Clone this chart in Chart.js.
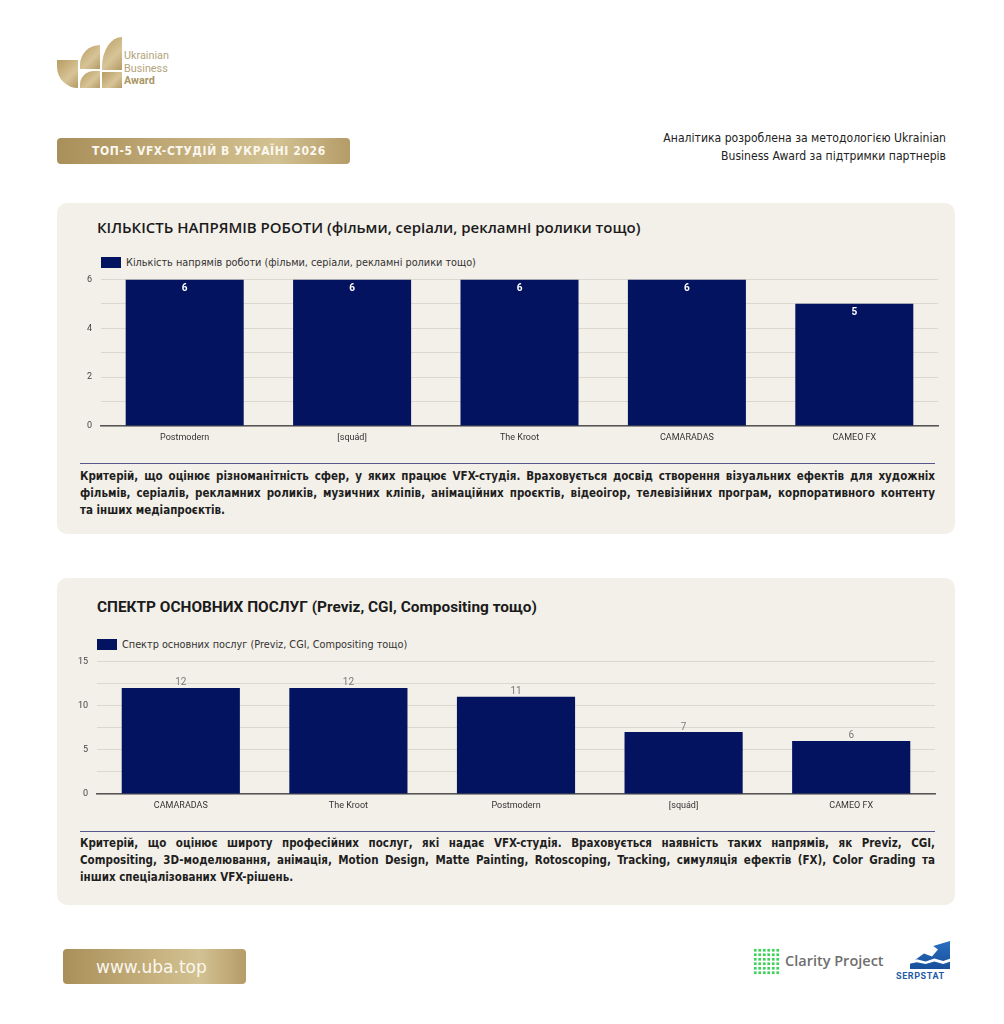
<!DOCTYPE html>
<html lang="uk">
<head>
<meta charset="utf-8">
<title>ТОП-5 VFX-студій в Україні 2026</title>
<script src="https://cdn.jsdelivr.net/npm/chart.js@4.4.1/dist/chart.umd.min.js"></script>
<style>
  html, body { margin: 0; padding: 0; background: #ffffff; }
  #page { position: relative; width: 1004px; height: 1024px; overflow: hidden; font-family: Roboto, sans-serif; }
  .abs { position: absolute; }
  .gold { background: linear-gradient(90deg, #a98f5a 0%, #c9b583 55%, #d2c192 75%, #b59c68 100%); }
  .badge { border-radius: 4px; color: #fbf7ee; font-family: "DejaVu Sans Condensed", sans-serif; font-weight: bold; }
  .card { left: 57px; width: 898px; background: #f3f0e9; border-radius: 10px; }
  .ctitle { color: #1b1b1b; font-size: 15px; line-height: 20px; white-space: nowrap; }
  .legend { font-family: "DejaVu Sans Condensed", sans-serif; font-size: 10.8px; color: #333; line-height: 12px; white-space: nowrap; }
  .legend span.box { display: inline-block; width: 20px; height: 11px; background: #03135f; vertical-align: -2px; margin-right: 5px; }
  .sep { left: 80px; width: 855px; height: 0; border-top: 1.5px solid #55558a; }
  .desc { left: 80px; width: 855px; font-family: "DejaVu Sans Condensed", sans-serif; font-weight: bold; font-size: 11.5px; color: #1e1e1e; line-height: 17px; }
  .desc div { white-space: nowrap; text-align: justify; text-align-last: justify; }
  .desc div.last { text-align-last: left; }
  .logo-part { position: absolute; background: linear-gradient(135deg, #b89c62, #d7c497 60%, #b49a66); }
</style>
</head>
<body>
<div id="page">
  <!-- логотип -->
  <div class="logo-part" style="left:57px;top:60px;width:21px;height:28px;border-bottom-left-radius:21px;"></div>
  <div class="logo-part" style="left:80px;top:45px;width:20px;height:24px;border-top-left-radius:20px;"></div>
  <div class="logo-part" style="left:80px;top:71px;width:20px;height:17px;border-top-left-radius:14px;"></div>
  <div class="logo-part" style="left:102px;top:37px;width:20px;height:33px;border-top-left-radius:20px 30px;"></div>
  <div class="logo-part" style="left:102px;top:72px;width:20px;height:16px;"></div>
  <div class="abs" style="left:124px;top:50px;font-family:Roboto,sans-serif;font-size:10.8px;line-height:12.5px;color:#b3a47c;">
    Ukrainian<br>Business<br><b style="color:#a99664;">Award</b>
  </div>

  <div class="abs badge gold" style="left:57px;top:138px;width:293px;height:26px;line-height:27px;font-size:12px;letter-spacing:0.6px;text-indent:35px;">ТОП-5 VFX-СТУДІЙ В УКРАЇНІ 2026</div>

  <div class="abs" style="right:58px;top:129px;text-align:right;font-family:'DejaVu Sans Condensed',sans-serif;font-size:12.1px;line-height:18px;color:#222;">
    Аналітика розроблена за методологією Ukrainian<br>Business Award за підтримки партнерів
  </div>

  <!-- картка 1 -->
  <div class="abs card" style="top:203px;height:331px;"></div>
  <div class="abs ctitle" style="left:97px;top:217px;font-family:'Open Sans',sans-serif;font-weight:600;font-size:15px;">КІЛЬКІСТЬ НАПРЯМІВ РОБОТИ (фільми, серіали, рекламні ролики тощо)</div>
  <div class="abs legend" id="legend1" style="left:101px;top:257px;"></div>
  <div class="abs" style="left:70px;top:265px;width:875px;height:181px;"><canvas id="chart1"></canvas></div>
  <div class="abs sep" style="top:463px;"></div>
  <div class="abs desc" style="top:468px;">
    <div>Критерій, що оцінює різноманітність сфер, у яких працює VFX-студія. Враховується досвід створення візуальних ефектів для художніх</div>
    <div>фільмів, серіалів, рекламних роликів, музичних кліпів, анімаційних проєктів, відеоігор, телевізійних програм, корпоративного контенту</div>
    <div class="last">та інших медіапроєктів.</div>
  </div>

  <!-- картка 2 -->
  <div class="abs card" style="top:578px;height:327px;"></div>
  <div class="abs ctitle" style="left:97px;top:597px;font-family:Roboto,sans-serif;font-weight:bold;font-size:15.4px;">СПЕКТР ОСНОВНИХ ПОСЛУГ (Previz, CGI, Compositing тощо)</div>
  <div class="abs legend" id="legend2" style="left:97px;top:639px;"></div>
  <div class="abs" style="left:66px;top:647px;width:879px;height:167px;"><canvas id="chart2"></canvas></div>
  <div class="abs sep" style="top:831px;"></div>
  <div class="abs desc" style="top:835px;">
    <div>Критерій, що оцінює широту професійних послуг, які надає VFX-студія. Враховується наявність таких напрямів, як Previz, CGI,</div>
    <div>Compositing, 3D-моделювання, анімація, Motion Design, Matte Painting, Rotoscoping, Tracking, симуляція ефектів (FX), Color Grading та</div>
    <div class="last">інших спеціалізованих VFX-рішень.</div>
  </div>

  <!-- футер -->
  <div class="abs badge gold" style="left:63px;top:949px;width:183px;height:35px;line-height:36px;font-size:17px;font-weight:normal;font-family:'DejaVu Sans',sans-serif;text-indent:33px;">www.uba.top</div>

  <div class="abs" style="left:753px;top:948px;width:27px;height:27px;background-image:radial-gradient(circle, #3fd15a 1.3px, transparent 1.6px);background-size:4.5px 4.5px;"></div>
  <div class="abs" style="left:785px;top:951px;font-family:'Open Sans',sans-serif;font-weight:600;font-size:14.5px;color:#6f6f6f;">Clarity Project</div>

  <div class="abs" style="left:910px;top:941px;width:40px;height:28px;background:linear-gradient(180deg,#2a6fc0,#184f9a);clip-path:polygon(0% 100%, 0% 80%, 35% 45%, 55% 55%, 70% 30%, 58% 18%, 100% 0%, 100% 100%);"></div>
  <div class="abs" style="left:908px;top:958px;width:44px;height:6px;background:#ffffff;clip-path:polygon(0% 70%, 20% 20%, 40% 60%, 60% 10%, 80% 50%, 100% 0%, 100% 50%, 80% 100%, 60% 60%, 40% 100%, 20% 70%, 0% 100%);"></div>
  <div class="abs" style="left:896px;top:971px;font-family:Roboto,sans-serif;font-weight:bold;font-size:9px;letter-spacing:0.6px;color:#1f5aa6;">SERPSTAT</div>
</div>

<script>
// Дані
const studios1 = ['Postmodern', '[squád]', 'The Kroot', 'CAMARADAS', 'CAMEO FX'];
const directions = [6, 6, 6, 6, 5];
const label1 = 'Кількість напрямів роботи (фільми, серіали, рекламні ролики тощо)';

const studios2 = ['CAMARADAS', 'The Kroot', 'Postmodern', '[squád]', 'CAMEO FX'];
const services = [12, 12, 11, 7, 6];
const label2 = 'Спектр основних послуг (Previz, CGI, Compositing тощо)';

const barColor = '#03135f';

// підписи значень над/в стовпчиках
const valueLabels = {
    id: 'valueLabels',
    afterDatasetsDraw(chart, args, opts) {
        const ctx = chart.ctx;
        const meta = chart.getDatasetMeta(0);
        const data = chart.data.datasets[0].data;
        ctx.save();
        ctx.font = opts.font;
        ctx.fillStyle = opts.color;
        ctx.textAlign = 'center';
        meta.data.forEach(function(bar, i) {
            if (opts.inside) {
                ctx.textBaseline = 'top';
                ctx.fillText(data[i], bar.x, bar.y + 4);
            } else {
                ctx.textBaseline = 'bottom';
                ctx.fillText(data[i], bar.x, bar.y);
            }
        });
        ctx.restore();
    }
};

function makeLegend(id, text) {
    const el = document.getElementById(id);
    el.innerHTML = '<span class="box"></span>' + text;
}

function makeChart(id, labels, values, label, cfg) {
    return new Chart(document.getElementById(id), {
        type: 'bar',
        data: {
            labels: labels,
            datasets: [{
                label: label,
                data: values,
                backgroundColor: barColor,
                borderWidth: 0,
                barPercentage: 0.705,
                categoryPercentage: 1
            }]
        },
        plugins: [valueLabels],
        options: {
            responsive: true,
            maintainAspectRatio: false,
            animation: false,
            layout: { padding: { top: cfg.padTop, right: cfg.padRight, left: 0, bottom: 0 } },
            plugins: {
                legend: { display: false },
                tooltip: { enabled: false },
                valueLabels: cfg.valueLabels
            },
            scales: {
                x: {
                    grid: { display: false, drawTicks: false },
                    border: { color: '#555555', width: 1.5 },
                    ticks: { color: '#333', font: { family: 'Roboto', size: 9 }, padding: 6 },
                    afterFit: function(scale) { scale.height = cfg.xHeight; }
                },
                y: {
                    min: 0,
                    max: cfg.max,
                    grid: { color: '#dcd8cf', drawTicks: false },
                    border: { display: false },
                    ticks: {
                        stepSize: cfg.step,
                        color: '#444',
                        font: { family: 'Roboto', size: 9 },
                        padding: 9,
                        callback: function(v) { return v % cfg.labelEvery === 0 ? v : ''; }
                    },
                    afterFit: function(scale) { scale.width = 31; }
                }
            }
        }
    });
}

makeLegend('legend1', label1);
makeLegend('legend2', label2);

makeChart('chart1', studios1, directions, label1, {
    max: 6, step: 1, labelEvery: 2, padTop: 9, padRight: 7, xHeight: 20,
    valueLabels: { inside: true, color: '#ffffff', font: 'bold 10px Roboto' }
});

makeChart('chart2', studios2, services, label2, {
    max: 15, step: 2.5, labelEvery: 5, padTop: 8, padRight: 10, xHeight: 20,
    valueLabels: { inside: false, color: '#7a7a7a', font: '10px Roboto' }
});
</script>
</body>
</html>
